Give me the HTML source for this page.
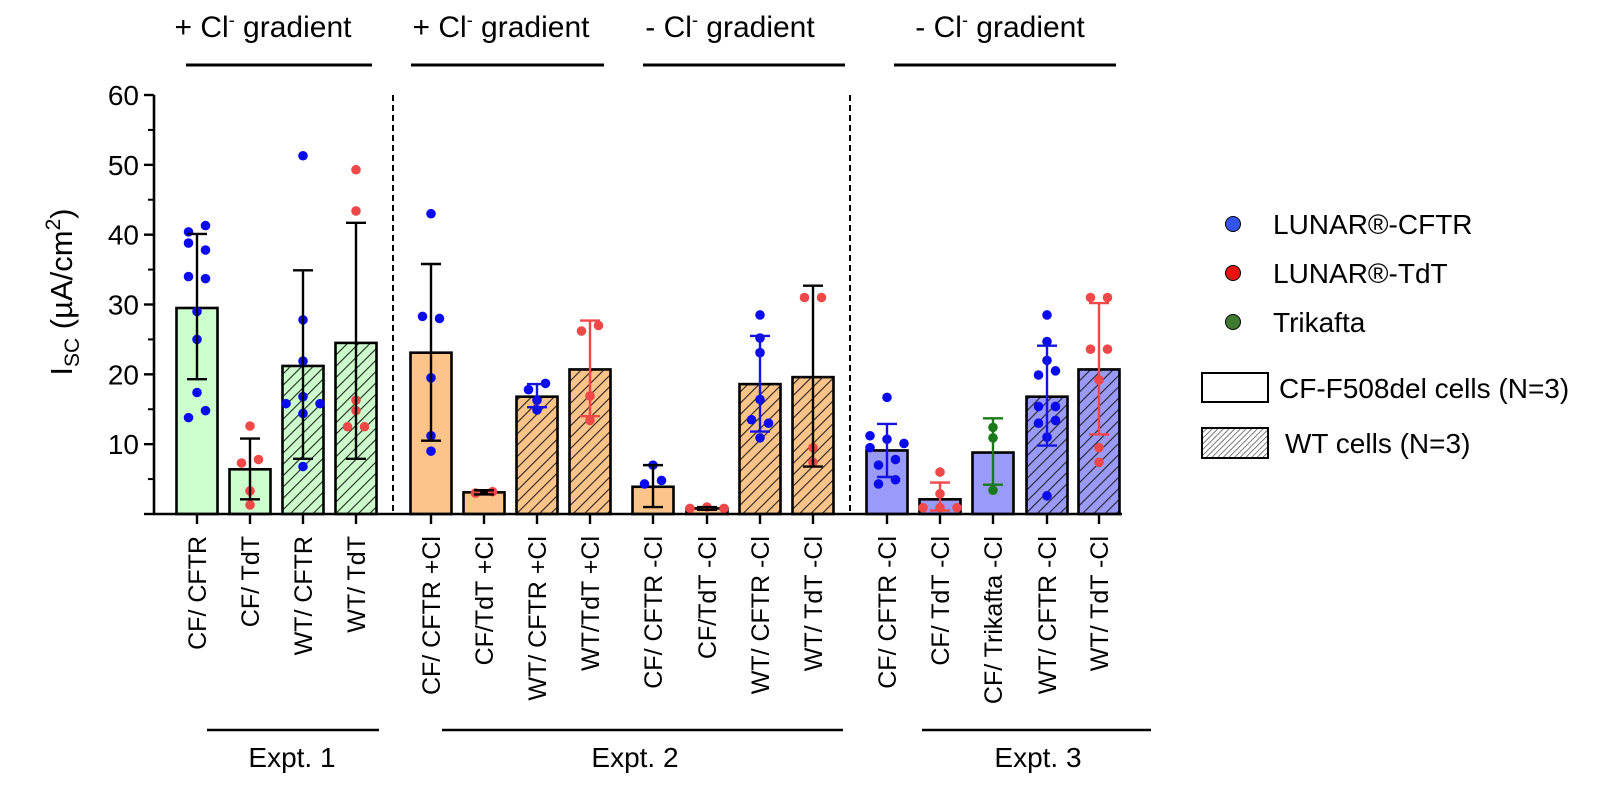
<!DOCTYPE html>
<html><head><meta charset="utf-8"><style>
body{margin:0;background:#fff;}
svg{display:block;font-family:"Liberation Sans",Arial,sans-serif;}
</style></head><body>
<svg id="chart" width="1599" height="786" viewBox="0 0 1599 786" xmlns="http://www.w3.org/2000/svg">
<defs>
<pattern id="hatch" patternUnits="userSpaceOnUse" width="8" height="8" patternTransform="rotate(45)">
<line x1="0" y1="0" x2="0" y2="8" stroke="#222" stroke-width="2.2"/></pattern>
<pattern id="hatchLeg" patternUnits="userSpaceOnUse" width="4" height="4" patternTransform="rotate(45)">
<line x1="0" y1="0" x2="0" y2="4" stroke="#333" stroke-width="1.3"/></pattern>
</defs>
<g id="plot"></g>
<!-- headers -->
<g font-size="30" text-anchor="middle">
<text x="263" y="37">+ Cl<tspan dy="-11" font-size="18">-</tspan><tspan dy="11"> gradient</tspan></text>
<line x1="186" y1="65" x2="372" y2="65" stroke="#000" stroke-width="3"/>
<text x="501" y="37">+ Cl<tspan dy="-11" font-size="18">-</tspan><tspan dy="11"> gradient</tspan></text>
<line x1="411" y1="65" x2="604" y2="65" stroke="#000" stroke-width="3"/>
<text x="730" y="37">- Cl<tspan dy="-11" font-size="18">-</tspan><tspan dy="11"> gradient</tspan></text>
<line x1="643" y1="65" x2="845" y2="65" stroke="#000" stroke-width="3"/>
<text x="1000" y="37">- Cl<tspan dy="-11" font-size="18">-</tspan><tspan dy="11"> gradient</tspan></text>
<line x1="894" y1="65" x2="1116" y2="65" stroke="#000" stroke-width="3"/>
</g>
<!-- experiment labels -->
<g font-size="28" text-anchor="middle">
<line x1="207" y1="730" x2="379" y2="730" stroke="#000" stroke-width="2.5"/>
<text x="292" y="767">Expt. 1</text>
<line x1="442" y1="730" x2="843" y2="730" stroke="#000" stroke-width="2.5"/>
<text x="635" y="767">Expt. 2</text>
<line x1="922" y1="730" x2="1151" y2="730" stroke="#000" stroke-width="2.5"/>
<text x="1038" y="767">Expt. 3</text>
</g>
<!-- y title -->
<text font-size="31" text-anchor="middle" transform="translate(72,292) rotate(-90)">I<tspan font-size="21" dy="7">SC</tspan><tspan dy="-7"> (µA/cm</tspan><tspan font-size="21" dy="-12">2</tspan><tspan dy="12">)</tspan></text>
<!-- legend -->
<g font-size="28">
<circle cx="1233" cy="224" r="7.5" fill="#3355ee" stroke="#000" stroke-width="1"/>
<text x="1273" y="234">LUNAR®-CFTR</text>
<circle cx="1233" cy="273" r="7.5" fill="#ee1111" stroke="#000" stroke-width="1"/>
<text x="1273" y="283">LUNAR®-TdT</text>
<circle cx="1233" cy="322" r="7.5" fill="#3f7a2f" stroke="#000" stroke-width="1"/>
<text x="1273" y="332">Trikafta</text>
<rect x="1202" y="373" width="66" height="29" fill="#fff" stroke="#000" stroke-width="2"/>
<text x="1279" y="398">CF-F508del cells (N=3)</text>
<rect x="1202" y="428" width="66" height="30" fill="url(#hatchLeg)" stroke="#000" stroke-width="2"/>
<text x="1285" y="453">WT cells (N=3)</text>
</g>
</svg>
<script>
const categories=["CF/ CFTR","CF/ TdT","WT/ CFTR","WT/ TdT","CF/ CFTR +Cl","CF/TdT +Cl","WT/ CFTR +Cl","WT/TdT +Cl","CF/ CFTR -Cl","CF/TdT -Cl","WT/ CFTR -Cl","WT/ TdT -Cl","CF/ CFTR -Cl","CF/ TdT  -Cl","CF/ Trikafta -Cl","WT/ CFTR -Cl","WT/ TdT -Cl"];
const means=[29.5,6.4,21.2,24.5,23.1,3.1,16.8,20.7,3.9,0.8,18.6,19.6,9.1,2.1,8.8,16.8,20.7];
const errHigh=[40.1,10.8,34.9,41.7,35.8,3.4,18.6,27.7,7.0,1.0,25.5,32.7,12.9,4.5,13.7,24.1,30.2];
const errLow=[19.3,2.1,7.9,7.9,10.5,2.8,15.3,14.0,1.0,0.6,11.8,6.8,5.3,0.5,4.2,9.8,11.4];
const points=[
 [41.3,40.4,38.8,37.8,34.0,33.7,29.0,25.0,17.4,14.8,13.8],
 [12.6,7.3,7.8,3.3,1.3],
 [51.3,27.8,21.9,16.8,15.8,15.8,14.4,6.8],
 [49.3,43.4,16.3,14.8,12.5,12.5],
 [43.0,28.3,28.0,19.5,11.2,9.0],
 [3.0,3.2],
 [18.7,17.8,16.3,14.9],
 [27.0,26.2,16.9,13.4],
 [7.0,4.8,4.3],
 [0.8,1.0,0.8],
 [28.5,25.2,23.1,16.4,13.5,13.0,10.9],
 [31.0,31.0,9.5,7.4],
 [16.7,11.2,10.7,10.1,9.5,7.8,7.0,4.9,4.3],
 [6.0,2.9,0.9,0.9,0.9],
 [12.4,10.9,3.4],
 [28.5,24.7,22.0,20.5,19.9,15.4,15.4,13.4,13.0,11.0,2.6],
 [31.0,31.0,23.6,23.6,19.2,9.5,7.4]
];
const jitter=[
 [1,-1,-1,1,-1,1,0,0,0,1,-1],[0,-1,1,0,0],[0,0,0,0,-2,2,0,0],[0,0,0,0,-1,1],
 [0,-1,1,0,0,0],[-1,1],[1,-1,0,0],[1,-1,0,0],[0,1,-1],[-2,0,2],[0,0,0,0,-1,1,0],[-1,1,0,0],
 [0,-2,0,2,-2,1,-1,1,-1],[0,0,-2,0,2],[0,0,0],[0,0,0,1,-1,-1,1,1,-1,0,0],[-1,1,-1,1,0,0,0]
];
const series=["cftr","tdt","cftr","tdt","cftr","tdt","cftr","tdt","cftr","tdt","cftr","tdt","cftr","tdt","trikafta","cftr","tdt"];
const cellType=["cf","cf","wt","wt","cf","cf","wt","wt","cf","cf","wt","wt","cf","cf","cf","wt","wt"];
const experiment=[1,1,1,1,2,2,2,2,2,2,2,2,3,3,3,3,3];
const errColor=["k","k","k","k","k","k","s","s","k","k","s","k","s","s","s","s","s"];
const yTicks=[0,10,20,30,40,50,60];
const yTickLabels=["","10","20","30","40","50","60"];

const Y0=514,Y60=95,AX=154;
const y=v=>Y0-(v/60)*(Y0-Y60);
const slotX=[197,250,303,356,431,484,537,590,653,707,760,813,887,940,993,1047,1099];
const x=i=>slotX[i];
const fills={1:"#ccffcc",2:"#fcc488",3:"#9a9afa"};
const dotCol={cftr:"#0a0aee",tdt:"#f04848",trikafta:"#1a7a1a"};
const barColStroke={cftr:"#1414e0",tdt:"#f04848",trikafta:"#1a7a1a"};
const NS="http://www.w3.org/2000/svg";
const plot=document.getElementById('plot');
function mk(t,a,p){const e=document.createElementNS(NS,t);for(const k in a)e.setAttribute(k,a[k]);(p||plot).appendChild(e);return e;}

[393,850].forEach((dx,k)=>{const l=mk('line',{x1:dx,y1:95,x2:dx,y2:514,stroke:'#000','stroke-width':2,'stroke-dasharray':'6,4'});

});

const BW=41;
categories.forEach((c,i)=>{
 const cx=x(i),top=y(means[i]);
 const g=mk('g',{});
 
 
 const r=mk('rect',{x:cx-BW/2,y:top,width:BW,height:Y0-top,fill:fills[experiment[i]],stroke:'none'},g);
 
 
 if(cellType[i]==='wt'){const h=mk('rect',{x:cx-BW/2,y:top,width:BW,height:Y0-top,fill:'url(#hatch)'},g);
  
  }
 const o=mk('rect',{x:cx-BW/2,y:top,width:BW,height:Y0-top,fill:'none',stroke:'#000','stroke-width':2.6},g);
 
 
 points[i].forEach((v,j)=>{const d=mk('circle',{cx:cx+jitter[i][j]*8.5,cy:y(v),r:4.8,fill:dotCol[series[i]]},g);
  
  });
 const ec=errColor[i]==='k'?'#000':barColStroke[series[i]];
 const eb=mk('path',{d:`M${cx},${y(errHigh[i])}V${y(errLow[i])}M${cx-10},${y(errHigh[i])}H${cx+10}M${cx-10},${y(errLow[i])}H${cx+10}`,stroke:ec,'stroke-width':2.4,fill:'none'},g);
 
 
 const t=mk('line',{x1:cx,y1:Y0,x2:cx,y2:Y0+10,stroke:'#000','stroke-width':2.4});
 
 
 const lb=mk('text',{x:0,y:0,'font-size':25,'text-anchor':'end',transform:`translate(${cx+9},${Y0+22}) rotate(-90)`});
 
 
 lb.setAttribute('xml:space','preserve');
 lb.textContent=c;
});

const ya=mk('line',{x1:AX,y1:Y60,x2:AX,y2:Y0+1,stroke:'#000','stroke-width':2.6});


const xa=mk('line',{x1:AX-1,y1:Y0,x2:1122,y2:Y0,stroke:'#000','stroke-width':2.6});


yTicks.forEach((v,k)=>{
 const t=mk('line',{x1:AX-10,y1:y(v),x2:AX,y2:y(v),stroke:'#000','stroke-width':2.4});
 
 
 if(v<60){const m=mk('line',{x1:AX-6,y1:y(v+5),x2:AX,y2:y(v+5),stroke:'#000','stroke-width':2});
  
  }
 if(yTickLabels[k]){const l=mk('text',{x:AX-15,y:y(v)+10,'font-size':28,'text-anchor':'end'});
  
  
  l.textContent=yTickLabels[k];}
});
</script>
</body></html>
